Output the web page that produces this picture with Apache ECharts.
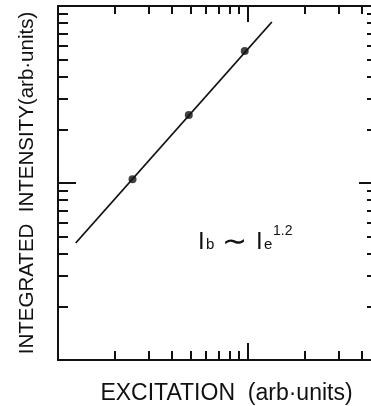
<!DOCTYPE html>
<html>
<head>
<meta charset="utf-8">
<script src="https://cdn.jsdelivr.net/npm/echarts@6/dist/echarts.min.js"></script>
<style>
  html, body { margin: 0; padding: 0; background: #fff; }
  #chart { width: 371px; height: 406px; }
</style>
</head>
<body>
<div id="chart"></div>
<script>
// measured points (excitation, integrated intensity), arb. units
var excitation = [2.47, 4.89, 9.64];
var intensity = [10.5, 24.2, 55.7];
// fitted power law line, I_b ~ I_e^1.2
var fitX = [1.24, 13.4];
var fitY = [4.58, 81.2];

var xMajor = [10];
var xMinor = [2, 3, 4, 5, 6, 7, 8, 9, 20, 30, 40];
var yMajor = [10];
var yMinor = [2, 3, 4, 5, 6, 7, 8, 9, 20, 30, 40, 50, 60, 70, 80, 90];

var ink = '#111';
var font = 'Liberation Sans, Arial, sans-serif';

function xAx(pos, ticks, len, line, extra) {
  var a = {
    type: 'log', logBase: 10, min: 1, max: 48, position: pos,
    axisLine: { show: line, lineStyle: { color: ink, width: 2 } },
    axisTick: { show: true, inside: true, length: len, customValues: ticks, lineStyle: { color: ink, width: 2 } },
    axisLabel: { show: false },
    splitLine: { show: false }, minorTick: { show: false }
  };
  return Object.assign(a, extra || {});
}
function yAx(pos, ticks, len, line, extra) {
  var a = {
    type: 'log', logBase: 10, min: 1, max: 100, position: pos,
    axisLine: { show: line, lineStyle: { color: ink, width: 2 } },
    axisTick: { show: true, inside: true, length: len, customValues: ticks, lineStyle: { color: ink, width: 2 } },
    axisLabel: { show: false },
    splitLine: { show: false }, minorTick: { show: false }
  };
  return Object.assign(a, extra || {});
}

var chart = echarts.init(document.getElementById('chart'));
chart.setOption({
  animation: false,
  backgroundColor: '#fff',
  grid: { left: 58, top: 6, right: -6, bottom: 46, outerBoundsMode: 'none', containLabel: false },
  xAxis: [
    xAx('bottom', xMajor, 17, true, {
      name: 'EXCITATION  (arb·units)', nameLocation: 'middle', nameGap: 22,
      nameTextStyle: { fontFamily: font, fontSize: 23, color: ink, padding: [0, 0, 0, 18] }
    }),
    xAx('bottom', xMinor, 9, false),
    xAx('top', xMajor, 16, true),
    xAx('top', xMinor, 8, false)
  ],
  yAxis: [
    yAx('left', yMajor, 18, true, {
      name: 'INTEGRATED  INTENSITY(arb·units)', nameLocation: 'middle', nameGap: 20,
      nameTextStyle: { fontFamily: font, fontSize: 20.5, color: ink }
    }),
    yAx('left', yMinor, 10, false),
    yAx('right', yMajor, 18, true),
    yAx('right', yMinor, 10, false)
  ],
  series: [
    {
      type: 'line', xAxisIndex: 0, yAxisIndex: 0,
      data: fitX.map(function (x, i) { return [x, fitY[i]]; }),
      showSymbol: false, lineStyle: { color: ink, width: 1.8 }
    },
    {
      type: 'scatter', xAxisIndex: 0, yAxisIndex: 0,
      data: excitation.map(function (x, i) { return [x, intensity[i]]; }),
      symbolSize: 8, itemStyle: { color: ink }
    }
  ],
  graphic: [
    { type: 'group', left: 198, top: 224, children: [
      { type: 'text', x: 0, y: 8, style: { text: 'I', font: '24px ' + font, fill: ink } },
      { type: 'text', x: 8, y: 15, style: { text: 'b', font: '15px ' + font, fill: ink } },
      { type: 'text', x: 24, y: 6, style: { text: '∼', font: '30px ' + font, fill: ink } },
      { type: 'text', x: 58, y: 8, style: { text: 'I', font: '24px ' + font, fill: ink } },
      { type: 'text', x: 66, y: 15, style: { text: 'e', font: '15px ' + font, fill: ink } },
      { type: 'text', x: 75, y: 2, style: { text: '1.2', font: '14px ' + font, fill: ink } }
    ] }
  ]
});
</script>
</body>
</html>
